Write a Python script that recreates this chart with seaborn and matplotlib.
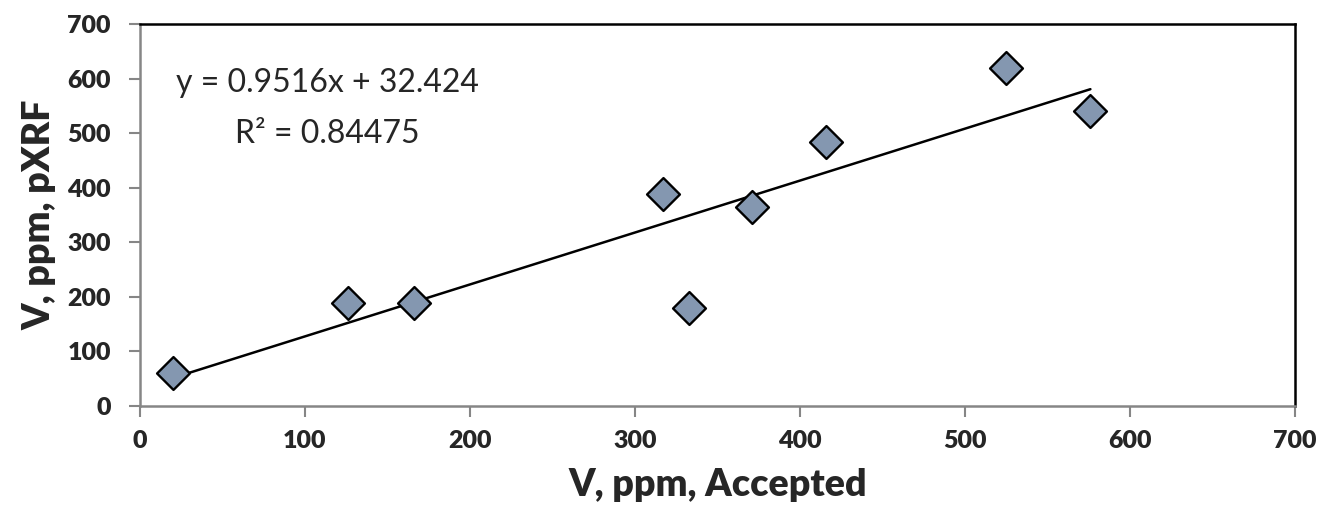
import matplotlib
matplotlib.use("Agg")
import matplotlib.pyplot as plt
import seaborn as sns
import numpy as np
import pandas as pd

# Data
accepted = [20, 126, 166, 317, 333, 371, 416, 525, 576]
pxrf = [61, 188, 188, 389, 179, 365, 484, 619, 541]
slope = 0.9516
intercept = 32.424
equation_text = "y = 0.9516x + 32.424"
r2_text = "R² = 0.84475"
x_ticks = [0, 100, 200, 300, 400, 500, 600, 700]
y_ticks = [0, 100, 200, 300, 400, 500, 600, 700]
x_label = "V, ppm, Accepted"
y_label = "V, ppm, pXRF"

sns.set_theme(style="white")
plt.rcParams['font.family'] = ['Lato', 'DejaVu Sans']

df = pd.DataFrame({"accepted": accepted, "pxrf": pxrf})

fig = plt.figure(figsize=(13.22, 5.24), dpi=100)
ax = fig.add_axes([140/1322, 1 - 406/524, (1295 - 140)/1322, (406 - 24)/524])

# trendline
xs = np.array([min(accepted), max(accepted)])
ax.plot(xs, slope * xs + intercept, color="black", linewidth=1.8, zorder=2)

sns.scatterplot(data=df, x="accepted", y="pxrf", ax=ax, marker="D", s=280,
                color="#8497B0", edgecolor="black", linewidth=1.7, zorder=3)

ax.set_xlim(0, 700)
ax.set_ylim(0, 700)
ax.set_xticks(x_ticks)
ax.set_yticks(y_ticks)
ax.set_xticklabels([str(t) for t in x_ticks], fontsize=18, fontweight="heavy")
ax.set_yticklabels([str(t) for t in y_ticks], fontsize=18, fontweight="heavy")
ax.tick_params(axis="both", direction="out", length=8, width=1.5, color="#868686",
               bottom=True, left=True)
ax.tick_params(axis="x", pad=9)
ax.tick_params(axis="y", pad=13)

ax.set_xlabel(x_label, fontsize=27, fontweight="heavy", labelpad=12)
ax.set_ylabel(y_label, fontsize=27, fontweight="heavy", labelpad=8)

for side in ["top", "right"]:
    ax.spines[side].set_color("black")
    ax.spines[side].set_linewidth(1.8)
for side in ["left", "bottom"]:
    ax.spines[side].set_color("#868686")
    ax.spines[side].set_linewidth(1.8)

ax.text(0.162, 0.846, equation_text, transform=ax.transAxes, ha="center", va="center",
        fontsize=23)
ax.text(0.162, 0.713, r2_text, transform=ax.transAxes, ha="center", va="center",
        fontsize=23)

fig.savefig("out.png", dpi=100)
